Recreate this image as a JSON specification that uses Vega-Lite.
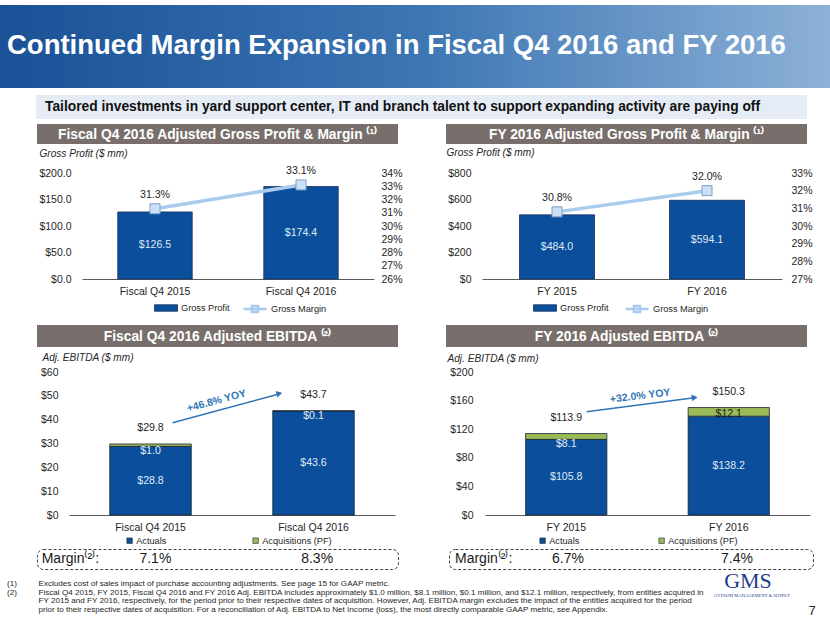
{
  "$schema": "https://vega.github.io/schema/vega-lite/v6.json",
  "padding": {"left": 0, "top": 5, "right": 0, "bottom": 0},
  "background": "white",
  "bounds": "flush",
  "spacing": 0,
  "config": {
    "view": {"stroke": null},
    "font": "Liberation Sans",
    "axis": {"labelFont": "Liberation Sans", "labelFontSize": 10.5, "labelColor": "#262626", "grid": false, "ticks": false, "domain": false, "labelOverlap": false},
    "legend": {"labelFont": "Liberation Sans", "labelFontSize": 9.2, "labelColor": "#262626", "padding": 0},
    "text": {"font": "Liberation Sans"}
  },
  "resolve": {"scale": {"color": "independent", "fill": "independent", "stroke": "independent"}, "legend": {"color": "independent", "fill": "independent", "stroke": "independent"}},
  "vconcat": [
    {
      "width": 830, "height": 83,
      "layer": [
        {"data": {"values": [{}]}, "mark": {"type": "rect", "fill": {"gradient": "linear", "x1": 0, "y1": 0, "x2": 1, "y2": 0, "stops": [{"offset": 0, "color": "#1a5197"}, {"offset": 0.5, "color": "#3b75b3"}, {"offset": 1, "color": "#8db1d7"}]}}},
        {"data": {"values": [{"t": "Continued Margin Expansion in Fiscal Q4 2016 and FY 2016"}]},
         "mark": {"type": "text", "align": "left", "baseline": "alphabetic", "dy": 7.5, "color": "#ffffff", "fontSize": 27.5, "fontWeight": "bold"},
         "encoding": {"x": {"datum": 7, "type": "quantitative", "scale": {"domain": [0, 830], "nice": false, "zero": false}, "axis": null}, "text": {"field": "t"}}}
      ]
    },
    {"width": 1, "height": 7, "data": {"values": []}, "mark": "rect"},
    {
      "hconcat": [
        {"width": 36, "height": 24, "data": {"values": []}, "mark": "rect"},
        {
          "width": 771, "height": 24,
          "layer": [
            {"data": {"values": [{}]}, "mark": {"type": "rect", "fill": "#e6ecf5"}},
            {"data": {"values": [{"t": "Tailored investments in yard support center, IT and branch talent to support expanding activity are paying off"}]},
             "mark": {"type": "text", "align": "left", "baseline": "alphabetic", "dy": 3.8, "color": "#111111", "fontSize": 13.8, "fontWeight": "bold"},
             "encoding": {"x": {"datum": 9, "type": "quantitative", "scale": {"domain": [0, 771], "nice": false, "zero": false}, "axis": null}, "text": {"field": "t"}}}
          ]
        }
      ],
      "spacing": 0, "bounds": "flush"
    },
    {"width": 1, "height": 29, "data": {"values": []}, "mark": "rect"},
    {
      "hconcat": [
        {"width": 37, "height": 20, "data": {"values": []}, "mark": "rect"},
        {
          "width": 361, "height": 20,
          "layer": [
            {"data": {"values": [{}]}, "mark": {"type": "rect", "fill": "#786f6c"}},
            {"data": {"values": [{"t": "Fiscal Q4 2016 Adjusted Gross Profit & Margin ⁽¹⁾"}]},
             "mark": {"type": "text", "align": "center", "baseline": "alphabetic", "dy": 4.5, "color": "#ffffff", "fontSize": 13.8, "fontWeight": "bold"},
             "encoding": {"text": {"field": "t"}}}
          ]
        },
        {"width": 48, "height": 20, "data": {"values": []}, "mark": "rect"},
        {
          "width": 361, "height": 20,
          "layer": [
            {"data": {"values": [{}]}, "mark": {"type": "rect", "fill": "#786f6c"}},
            {"data": {"values": [{"t": "FY 2016 Adjusted Gross Profit & Margin ⁽¹⁾"}]},
             "mark": {"type": "text", "align": "center", "baseline": "alphabetic", "dy": 4.5, "color": "#ffffff", "fontSize": 13.8, "fontWeight": "bold"},
             "encoding": {"text": {"field": "t"}}}
          ]
        }
      ],
      "spacing": 0, "bounds": "flush"
    },
    {"width": 1, "height": 49, "data": {"values": []}, "mark": "rect"},
    {
      "hconcat": [
        {"width": 82, "height": 106, "data": {"values": []}, "mark": "rect"},
        {
          "width": 292, "height": 106,
          "data": {"values": [
            {"period": "Fiscal Q4 2015", "gp": 126.5, "gm": 0.313},
            {"period": "Fiscal Q4 2016", "gp": 174.4, "gm": 0.331}
          ]},
          "encoding": {
            "x": {"field": "period", "type": "nominal", "sort": null,
                  "scale": {"type": "band", "paddingInner": 0.49, "paddingOuter": 0.245},
                  "axis": {"title": null, "labelAngle": 0, "domain": true, "domainColor": "#595959", "ticks": false, "labelPadding": 7}}
          },
          "layer": [
            {
              "mark": {"type": "bar", "stroke": "#14305a", "strokeWidth": 0.8},
              "encoding": {
                "y": {"field": "gp", "type": "quantitative", "scale": {"domain": [0, 200], "nice": false},
                      "axis": {"values": [0, 50, 100, 150, 200], "format": "$,.1f", "labelPadding": 11,
                               "title": "Gross Profit ($ mm)", "titleAngle": 0, "titleAlign": "left", "titleBaseline": "middle", "titleX": -43, "titleY": -20,
                               "titleFontStyle": "italic", "titleFontWeight": "normal", "titleFontSize": 10.1, "titleColor": "#262626", "titleFont": "Liberation Sans"}},
                "fill": {"datum": "Gross Profit", "type": "nominal", "scale": {"range": ["#0b4f9c"]},
                         "legend": {"orient": "none", "legendX": 72, "legendY": 123, "title": null, "symbolType": "M-1,-0.28H1V0.28H-1Z", "symbolSize": 529,
                                    "symbolStrokeColor": "#14305a", "symbolStrokeWidth": 0.8, "labelOffset": 3}}
              }
            },
            {
              "mark": {"type": "text", "color": "#dfe9f5", "fontSize": 10.6},
              "encoding": {"y": {"field": "gp", "type": "quantitative", "scale": {"domain": [0, 400], "nice": false}, "axis": null},
                           "text": {"field": "gp", "type": "quantitative", "format": "$,.1f"}}
            },
            {
              "encoding": {"y": {"field": "gm", "type": "quantitative", "scale": {"domain": [0.26, 0.34], "nice": false, "zero": false},
                                 "axis": {"orient": "right", "values": [0.26, 0.27, 0.28, 0.29, 0.30, 0.31, 0.32, 0.33, 0.34], "format": ".0%", "title": null, "labelPadding": 7}}},
              "layer": [
                {"mark": {"type": "line", "strokeWidth": 3.5},
                 "encoding": {"stroke": {"datum": "Gross Margin", "type": "nominal", "scale": {"range": ["#a9cbee"]},
                                         "legend": {"orient": "none", "legendX": 160, "legendY": 123, "title": null, "symbolType": "M-1,0H1M-0.27,-0.27H0.27V0.27H-0.27Z", "symbolSize": 529,
                                                    "symbolStrokeWidth": 2.5, "labelOffset": 3}}}},
                {"mark": {"type": "point", "shape": "square", "filled": true, "fill": "#c9e0f7", "stroke": "#7f9fc6", "strokeWidth": 1, "size": 100, "opacity": 1}},
                {"mark": {"type": "text", "dy": -14, "fontSize": 10.6, "color": "#262626"}, "encoding": {"text": {"field": "gm", "type": "quantitative", "format": ".1%"}}}
              ]
            }
          ],
          "resolve": {"scale": {"y": "independent"}}
        },
        {"width": 108, "height": 106, "data": {"values": []}, "mark": "rect"},
        {
          "width": 300, "height": 106,
          "data": {"values": [
            {"period": "FY 2015", "gp": 484.0, "gm": 0.308},
            {"period": "FY 2016", "gp": 594.1, "gm": 0.320}
          ]},
          "encoding": {
            "x": {"field": "period", "type": "nominal", "sort": null,
                  "scale": {"type": "band", "paddingInner": 0.5, "paddingOuter": 0.25},
                  "axis": {"title": null, "labelAngle": 0, "domain": true, "domainColor": "#595959", "ticks": false, "labelPadding": 7}}
          },
          "layer": [
            {
              "mark": {"type": "bar", "stroke": "#14305a", "strokeWidth": 0.8},
              "encoding": {
                "y": {"field": "gp", "type": "quantitative", "scale": {"domain": [0, 800], "nice": false},
                      "axis": {"values": [0, 200, 400, 600, 800], "format": "$,.0f", "labelPadding": 11,
                               "title": "Gross Profit ($ mm)", "titleAngle": 0, "titleAlign": "left", "titleBaseline": "middle", "titleX": -36, "titleY": -21,
                               "titleFontStyle": "italic", "titleFontWeight": "normal", "titleFontSize": 10.1, "titleColor": "#262626", "titleFont": "Liberation Sans"}},
                "fill": {"datum": "Gross Profit", "type": "nominal", "scale": {"range": ["#0b4f9c"]},
                         "legend": {"orient": "none", "legendX": 51, "legendY": 123, "title": null, "symbolType": "M-1,-0.28H1V0.28H-1Z", "symbolSize": 529,
                                    "symbolStrokeColor": "#14305a", "symbolStrokeWidth": 0.8, "labelOffset": 3}}
              }
            },
            {
              "mark": {"type": "text", "color": "#dfe9f5", "fontSize": 10.6},
              "encoding": {"y": {"field": "gp", "type": "quantitative", "scale": {"domain": [0, 1600], "nice": false}, "axis": null},
                           "text": {"field": "gp", "type": "quantitative", "format": "$,.1f"}}
            },
            {
              "encoding": {"y": {"field": "gm", "type": "quantitative", "scale": {"domain": [0.27, 0.33], "nice": false, "zero": false},
                                 "axis": {"orient": "right", "values": [0.27, 0.28, 0.29, 0.30, 0.31, 0.32, 0.33], "format": ".0%", "title": null, "labelPadding": 9}}},
              "layer": [
                {"mark": {"type": "line", "strokeWidth": 3.5},
                 "encoding": {"stroke": {"datum": "Gross Margin", "type": "nominal", "scale": {"range": ["#a9cbee"]},
                                         "legend": {"orient": "none", "legendX": 142, "legendY": 123, "title": null, "symbolType": "M-1,0H1M-0.27,-0.27H0.27V0.27H-0.27Z", "symbolSize": 529,
                                                    "symbolStrokeWidth": 2.5, "labelOffset": 3}}}},
                {"mark": {"type": "point", "shape": "square", "filled": true, "fill": "#c9e0f7", "stroke": "#7f9fc6", "strokeWidth": 1, "size": 100, "opacity": 1}},
                {"mark": {"type": "text", "dy": -14, "fontSize": 10.6, "color": "#262626"}, "encoding": {"text": {"field": "gm", "type": "quantitative", "format": ".1%"}}}
              ]
            }
          ],
          "resolve": {"scale": {"y": "independent"}}
        }
      ],
      "spacing": 0, "bounds": "flush",
      "resolve": {"scale": {"color": "independent", "fill": "independent", "stroke": "independent"}, "legend": {"color": "independent", "fill": "independent", "stroke": "independent"}}
    },
    {"width": 1, "height": 152, "data": {"values": []}, "mark": "rect"},
    {
      "hconcat": [
        {"width": 37, "height": 22, "data": {"values": []}, "mark": "rect"},
        {
          "width": 361, "height": 22,
          "layer": [
            {"data": {"values": [{}]}, "mark": {"type": "rect", "fill": "#786f6c"}},
            {"data": {"values": [{"t": "Fiscal Q4 2016 Adjusted EBITDA ⁽²⁾"}]},
             "mark": {"type": "text", "align": "center", "baseline": "alphabetic", "dy": 5, "color": "#ffffff", "fontSize": 13.8, "fontWeight": "bold"},
             "encoding": {"text": {"field": "t"}}}
          ]
        },
        {"width": 48, "height": 22, "data": {"values": []}, "mark": "rect"},
        {
          "width": 361, "height": 22,
          "layer": [
            {"data": {"values": [{}]}, "mark": {"type": "rect", "fill": "#786f6c"}},
            {"data": {"values": [{"t": "FY 2016 Adjusted EBITDA ⁽²⁾"}]},
             "mark": {"type": "text", "align": "center", "baseline": "alphabetic", "dy": 5, "color": "#ffffff", "fontSize": 13.8, "fontWeight": "bold"},
             "encoding": {"text": {"field": "t"}}}
          ]
        }
      ],
      "spacing": 0, "bounds": "flush"
    },
    {"width": 1, "height": 47, "data": {"values": []}, "mark": "rect"},
    {
      "hconcat": [
        {"width": 69, "height": 143, "data": {"values": []}, "mark": "rect"},
        {
          "width": 326, "height": 143,
          "data": {"values": [
            {"period": "Fiscal Q4 2015", "actual": 28.8, "acq": 1.0, "total": 29.8},
            {"period": "Fiscal Q4 2016", "actual": 43.6, "acq": 0.1, "total": 43.7}
          ]},
          "encoding": {
            "x": {"field": "period", "type": "nominal", "sort": null,
                  "scale": {"type": "band", "paddingInner": 0.5, "paddingOuter": 0.25},
                  "axis": {"title": null, "labelAngle": 0, "domain": true, "domainColor": "#595959", "ticks": false, "labelPadding": 7}}
          },
          "layer": [
            {
              "encoding": {
                "y": {"field": "actual", "type": "quantitative", "scale": {"domain": [0, 60], "nice": false},
                      "axis": {"values": [0, 10, 20, 30, 40, 50, 60], "format": "$,.0f", "labelPadding": 11,
                               "title": "Adj. EBITDA ($ mm)", "titleAngle": 0, "titleAlign": "left", "titleBaseline": "middle", "titleX": -27, "titleY": -15,
                               "titleFontStyle": "italic", "titleFontWeight": "normal", "titleFontSize": 10.1, "titleColor": "#262626", "titleFont": "Liberation Sans"}}
              },
              "layer": [
                {
                  "mark": {"type": "bar", "stroke": "#1c2533", "strokeWidth": 0.8},
                  "encoding": {
                    "color": {"datum": "Actuals", "type": "nominal",
                              "scale": {"domain": ["Actuals", "Acquisitions (PF)"], "range": ["#0b4f9c", "#9bbb59"]},
                              "legend": {"orient": "none", "legendX": 56, "legendY": 164, "direction": "horizontal", "title": null, "symbolType": "square", "symbolSize": 30,
                                         "symbolStrokeColor": "#333333", "symbolStrokeWidth": 0.6, "columnPadding": 84, "labelOffset": 2}}
                  }
                },
                {
                  "mark": {"type": "bar", "stroke": "#1c2533", "strokeWidth": 0.8},
                  "encoding": {"y2": {"field": "total"}, "color": {"datum": "Acquisitions (PF)", "type": "nominal"}}
                }
              ]
            },
            {
              "layer": [
                {
                  "mark": {"type": "text", "fontSize": 10.6, "dy": 5, "color": "#e3ecf6"},
                  "encoding": {"y": {"field": "actual", "type": "quantitative", "scale": {"domain": [0, 60], "nice": false}, "axis": null}, "text": {"field": "acq", "type": "quantitative", "format": "$,.1f"}}
                },
                {
                  "mark": {"type": "text", "fontSize": 10.6, "dy": -16, "color": "#262626"},
                  "encoding": {"y": {"field": "total", "type": "quantitative", "scale": {"domain": [0, 60], "nice": false}, "axis": null}, "text": {"field": "total", "type": "quantitative", "format": "$,.1f"}}
                },
                {
                  "data": {"values": [{}]},
                  "mark": {"type": "rule", "color": "#2e75b6", "strokeWidth": 1.4},
                  "encoding": {"x": {"datum": "Fiscal Q4 2015", "bandPosition": 0.77}, "x2": {"datum": "Fiscal Q4 2016", "bandPosition": 0.1},
                               "y": {"datum": 38.7, "type": "quantitative", "scale": {"domain": [0, 60], "nice": false}, "axis": null}, "y2": {"datum": 51.0}}
                },
                {
                  "data": {"values": [{}]},
                  "mark": {"type": "point", "shape": "triangle-right", "filled": true, "color": "#2e75b6", "size": 45, "angle": 345, "opacity": 1},
                  "encoding": {"x": {"datum": "Fiscal Q4 2016", "bandPosition": 0.08}, "y": {"datum": 51.0, "type": "quantitative", "scale": {"domain": [0, 60], "nice": false}, "axis": null}}
                },
                {
                  "data": {"values": [{"label": "+46.8% YOY"}]},
                  "mark": {"type": "text", "angle": 345, "fontWeight": "bold", "fontSize": 10.5, "color": "#2e75b6"},
                  "encoding": {"x": {"datum": "Fiscal Q4 2015", "bandPosition": 1.31}, "y": {"datum": 47.8, "type": "quantitative", "scale": {"domain": [0, 60], "nice": false}, "axis": null}, "text": {"field": "label"}}
                }
              ]
            },
            {
              "mark": {"type": "text", "color": "#dfe9f5", "fontSize": 10.6},
              "encoding": {"y": {"field": "actual", "type": "quantitative", "scale": {"domain": [0, 120], "nice": false}, "axis": null},
                           "text": {"field": "actual", "type": "quantitative", "format": "$,.1f"}}
            }
          ],
          "resolve": {"scale": {"y": "independent"}}
        },
        {"width": 90, "height": 143, "data": {"values": []}, "mark": "rect"},
        {
          "width": 325, "height": 143,
          "data": {"values": [
            {"period": "FY 2015", "actual": 105.8, "acq": 8.1, "total": 113.9},
            {"period": "FY 2016", "actual": 138.2, "acq": 12.1, "total": 150.3}
          ]},
          "encoding": {
            "x": {"field": "period", "type": "nominal", "sort": null,
                  "scale": {"type": "band", "paddingInner": 0.5, "paddingOuter": 0.25},
                  "axis": {"title": null, "labelAngle": 0, "domain": true, "domainColor": "#595959", "ticks": false, "labelPadding": 7}}
          },
          "layer": [
            {
              "encoding": {
                "y": {"field": "actual", "type": "quantitative", "scale": {"domain": [0, 200], "nice": false},
                      "axis": {"values": [0, 40, 80, 120, 160, 200], "format": "$,.0f", "labelPadding": 12,
                               "title": "Adj. EBITDA ($ mm)", "titleAngle": 0, "titleAlign": "left", "titleBaseline": "middle", "titleX": -38, "titleY": -14,
                               "titleFontStyle": "italic", "titleFontWeight": "normal", "titleFontSize": 10.1, "titleColor": "#262626", "titleFont": "Liberation Sans"}}
              },
              "layer": [
                {
                  "mark": {"type": "bar", "stroke": "#1c2533", "strokeWidth": 0.8},
                  "encoding": {
                    "color": {"datum": "Actuals", "type": "nominal",
                              "scale": {"domain": ["Actuals", "Acquisitions (PF)"], "range": ["#0b4f9c", "#9bbb59"]},
                              "legend": {"orient": "none", "legendX": 53, "legendY": 164, "direction": "horizontal", "title": null, "symbolType": "square", "symbolSize": 30,
                                         "symbolStrokeColor": "#333333", "symbolStrokeWidth": 0.6, "columnPadding": 77, "labelOffset": 2}}
                  }
                },
                {
                  "mark": {"type": "bar", "stroke": "#1c2533", "strokeWidth": 0.8},
                  "encoding": {"y2": {"field": "total"}, "color": {"datum": "Acquisitions (PF)", "type": "nominal"}}
                }
              ]
            },
            {
              "layer": [
                {
                  "transform": [{"filter": "datum.acq < 10"}],
                  "mark": {"type": "text", "fontSize": 10.6, "dy": 5, "color": "#e3ecf6"},
                  "encoding": {"y": {"field": "actual", "type": "quantitative", "scale": {"domain": [0, 200], "nice": false}, "axis": null}, "text": {"field": "acq", "type": "quantitative", "format": "$,.1f"}}
                },
                {
                  "transform": [{"filter": "datum.acq >= 10"}],
                  "mark": {"type": "text", "fontSize": 10.6, "dy": -2, "color": "#1a1a1a"},
                  "encoding": {"y": {"field": "actual", "type": "quantitative", "scale": {"domain": [0, 200], "nice": false}, "axis": null}, "text": {"field": "acq", "type": "quantitative", "format": "$,.1f"}}
                },
                {
                  "mark": {"type": "text", "fontSize": 10.6, "dy": -16, "color": "#262626"},
                  "encoding": {"y": {"field": "total", "type": "quantitative", "scale": {"domain": [0, 200], "nice": false}, "axis": null}, "text": {"field": "total", "type": "quantitative", "format": "$,.1f"}}
                },
                {
                  "data": {"values": [{}]},
                  "mark": {"type": "rule", "color": "#2e75b6", "strokeWidth": 1.4},
                  "encoding": {"x": {"datum": "FY 2015", "bandPosition": 0.75}, "x2": {"datum": "FY 2016", "bandPosition": 0.1},
                               "y": {"datum": 144.5, "type": "quantitative", "scale": {"domain": [0, 200], "nice": false}, "axis": null}, "y2": {"datum": 164.3}}
                },
                {
                  "data": {"values": [{}]},
                  "mark": {"type": "point", "shape": "triangle-right", "filled": true, "color": "#2e75b6", "size": 45, "angle": 353, "opacity": 1},
                  "encoding": {"x": {"datum": "FY 2016", "bandPosition": 0.08}, "y": {"datum": 164.3, "type": "quantitative", "scale": {"domain": [0, 200], "nice": false}, "axis": null}}
                },
                {
                  "data": {"values": [{"label": "+32.0% YOY"}]},
                  "mark": {"type": "text", "angle": 353, "fontWeight": "bold", "fontSize": 10.5, "color": "#2e75b6"},
                  "encoding": {"x": {"datum": "FY 2015", "bandPosition": 1.41}, "y": {"datum": 166.4, "type": "quantitative", "scale": {"domain": [0, 200], "nice": false}, "axis": null}, "text": {"field": "label"}}
                }
              ]
            },
            {
              "mark": {"type": "text", "color": "#dfe9f5", "fontSize": 10.6},
              "encoding": {"y": {"field": "actual", "type": "quantitative", "scale": {"domain": [0, 400], "nice": false}, "axis": null},
                           "text": {"field": "actual", "type": "quantitative", "format": "$,.1f"}}
            }
          ],
          "resolve": {"scale": {"y": "independent"}}
        }
      ],
      "spacing": 0, "bounds": "flush",
      "resolve": {"scale": {"color": "independent"}, "legend": {"color": "independent"}}
    },
    {"width": 1, "height": 177, "data": {"values": []}, "mark": "rect"},
    {
      "hconcat": [
        {"width": 37, "height": 20, "data": {"values": []}, "mark": "rect"},
        {
          "width": 361, "height": 20,
          "view": {"stroke": "#404040", "strokeDash": [3, 2], "strokeWidth": 1, "cornerRadius": 6},
          "layer": [
            {
              "data": {"values": [{"label": "Margin⁽²⁾:"}]},
              "mark": {"type": "text", "align": "left", "baseline": "middle", "fontSize": 14, "color": "#1a1a1a"},
              "encoding": {"x": {"datum": 1.3, "type": "quantitative", "scale": {"domain": [0, 100], "nice": false, "zero": false}, "axis": null}, "text": {"field": "label"}}
            },
            {
              "data": {"values": [{"period": "Fiscal Q4 2015", "margin": 0.071}, {"period": "Fiscal Q4 2016", "margin": 0.083}]},
              "mark": {"type": "text", "baseline": "middle", "fontSize": 14, "color": "#1a1a1a"},
              "encoding": {"x": {"field": "period", "type": "nominal", "sort": null, "scale": {"type": "band", "paddingInner": 0, "paddingOuter": 0.116, "align": 1}, "axis": null},
                           "text": {"field": "margin", "type": "quantitative", "format": ".1%"}}
            }
          ],
          "resolve": {"scale": {"x": "independent"}}
        },
        {"width": 51, "height": 20, "data": {"values": []}, "mark": "rect"},
        {
          "width": 364, "height": 20,
          "view": {"stroke": "#404040", "strokeDash": [3, 2], "strokeWidth": 1, "cornerRadius": 6},
          "layer": [
            {
              "data": {"values": [{"label": "Margin⁽²⁾:"}]},
              "mark": {"type": "text", "align": "left", "baseline": "middle", "fontSize": 14, "color": "#1a1a1a"},
              "encoding": {"x": {"datum": 1.65, "type": "quantitative", "scale": {"domain": [0, 100], "nice": false, "zero": false}, "axis": null}, "text": {"field": "label"}}
            },
            {
              "data": {"values": [{"period": "FY 2015", "margin": 0.067}, {"period": "FY 2016", "margin": 0.074}]},
              "mark": {"type": "text", "baseline": "middle", "fontSize": 14, "color": "#1a1a1a"},
              "encoding": {"x": {"field": "period", "type": "nominal", "sort": null, "scale": {"type": "band", "paddingInner": 0.1, "paddingOuter": 0.127, "align": 1}, "axis": null},
                           "text": {"field": "margin", "type": "quantitative", "format": ".1%"}}
            }
          ],
          "resolve": {"scale": {"x": "independent"}}
        }
      ],
      "spacing": 0, "bounds": "flush"
    },
    {"width": 1, "height": 29, "data": {"values": []}, "mark": "rect"},
    {
      "width": 830, "height": 38,
      "data": {"values": [
        {"line": 1, "num": "(1)", "text": "Excludes cost of sales impact of purchase accounting adjustments. See page 15 for GAAP metric."},
        {"line": 2, "num": "(2)", "text": "Fiscal Q4 2015, FY 2015, Fiscal Q4 2016 and FY 2016 Adj. EBITDA includes approximately $1.0 million, $8.1 million, $0.1 million, and $12.1 million, respectively, from entities acquired in"},
        {"line": 3, "num": "", "text": "FY 2015 and FY 2016, respectively, for the period prior to their respective dates of acquisition. However, Adj. EBITDA margin excludes the impact of the entities acquired for the period"},
        {"line": 4, "num": "", "text": "prior to their respective dates of acquisition. For a reconciliation of Adj. EBITDA to Net Income (loss), the most directly comparable GAAP metric, see Appendix."}
      ]},
      "encoding": {"y": {"field": "line", "type": "ordinal", "scale": {"type": "point", "padding": 0.64}, "axis": null}},
      "layer": [
        {
          "mark": {"type": "text", "align": "left", "baseline": "middle", "fontSize": 8.1, "color": "#262626"},
          "encoding": {"x": {"datum": 7, "type": "quantitative", "scale": {"domain": [0, 830], "nice": false, "zero": false}, "axis": null}, "text": {"field": "num"}}
        },
        {
          "mark": {"type": "text", "align": "left", "baseline": "middle", "fontSize": 8.1, "color": "#262626"},
          "encoding": {"x": {"datum": 38.5, "type": "quantitative"}, "text": {"field": "text"}}
        },
        {
          "data": {"values": [{"t": "GMS"}]},
          "mark": {"type": "text", "align": "center", "baseline": "alphabetic", "dy": 4.5, "font": "Liberation Serif", "fontSize": 22, "color": "#1f3d8c"},
          "encoding": {"x": {"datum": 748, "type": "quantitative"}, "y": {"datum": 1, "type": "ordinal"}, "text": {"field": "t"}}
        },
        {
          "data": {"values": [{"t": "GYPSUM MANAGEMENT & SUPPLY"}]},
          "mark": {"type": "text", "align": "center", "baseline": "alphabetic", "dy": 4.5, "font": "Liberation Serif", "fontSize": 4.6, "color": "#1f3d8c"},
          "encoding": {"x": {"datum": 752, "type": "quantitative"}, "y": {"datum": 2, "type": "ordinal"}, "text": {"field": "t"}}
        },
        {
          "data": {"values": [{"t": "7"}]},
          "mark": {"type": "text", "align": "center", "baseline": "alphabetic", "dy": 4.7, "fontSize": 13, "color": "#262626"},
          "encoding": {"x": {"datum": 812, "type": "quantitative"}, "y": {"datum": 4, "type": "ordinal"}, "text": {"field": "t"}}
        }
      ]
    }
  ]
}
